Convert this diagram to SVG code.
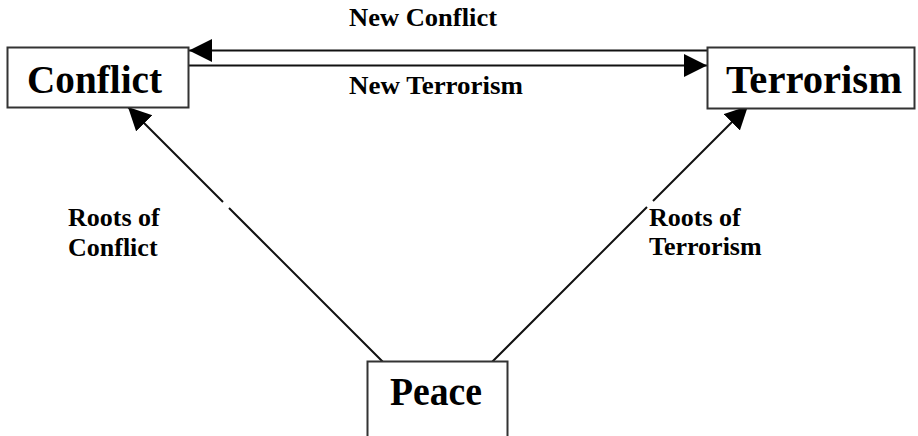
<svg xmlns="http://www.w3.org/2000/svg" width="918" height="436" viewBox="0 0 918 436">
<defs>
<style>
.box{fill:#fff;stroke:#333;stroke-width:2}
.big{font-family:"Liberation Serif","Times New Roman",serif;font-weight:bold;font-size:39px;fill:#000}
.lbl{font-family:"Liberation Serif","Times New Roman",serif;font-weight:bold;font-size:26px;fill:#000}
.edge{fill:none;stroke:#111;stroke-width:2}
</style>
<marker id="ah" markerUnits="userSpaceOnUse" markerWidth="24" markerHeight="24" refX="23" refY="11.5" orient="auto" viewBox="0 0 24 24">
<path d="M0,0 L23,11.5 L0,23 z" fill="#000"/>
</marker>
</defs>
<rect width="918" height="436" fill="#fff"/>
<g id="connectors">
<line class="edge" x1="707" y1="50.5" x2="189" y2="50.5" marker-end="url(#ah)"/>
<line class="edge" x1="189" y1="65.5" x2="707" y2="65.5" marker-end="url(#ah)"/>
<path class="edge" d="M383,362 L229,208 M223,202 L128,107" marker-end="url(#ah)"/>
<path class="edge" d="M492,362 L647,207 M653,201 L748,106" marker-end="url(#ah)"/>
<text class="lbl" x="349" y="26" textLength="148" lengthAdjust="spacingAndGlyphs">New Conflict</text>
<text class="lbl" x="349" y="94" textLength="174" lengthAdjust="spacingAndGlyphs">New Terrorism</text>
<text class="lbl" x="68" y="226">Roots of</text>
<text class="lbl" x="68" y="256">Conflict</text>
<text class="lbl" x="649" y="226">Roots of</text>
<text class="lbl" x="649" y="255">Terrorism</text>
</g>
<g id="conflict">
<rect class="box" x="7.5" y="47.5" width="181" height="60"/>
<text class="big" x="27" y="93" textLength="135" lengthAdjust="spacingAndGlyphs">Conflict</text>
</g>
<g id="terrorism">
<rect class="box" x="707.5" y="47.5" width="207" height="61"/>
<text class="big" x="726" y="93" textLength="176" lengthAdjust="spacingAndGlyphs">Terrorism</text>
</g>
<g id="peace">
<rect class="box" x="367.5" y="361.5" width="140" height="100"/>
<text class="big" x="390" y="405" textLength="92" lengthAdjust="spacingAndGlyphs">Peace</text>
</g>
</svg>
